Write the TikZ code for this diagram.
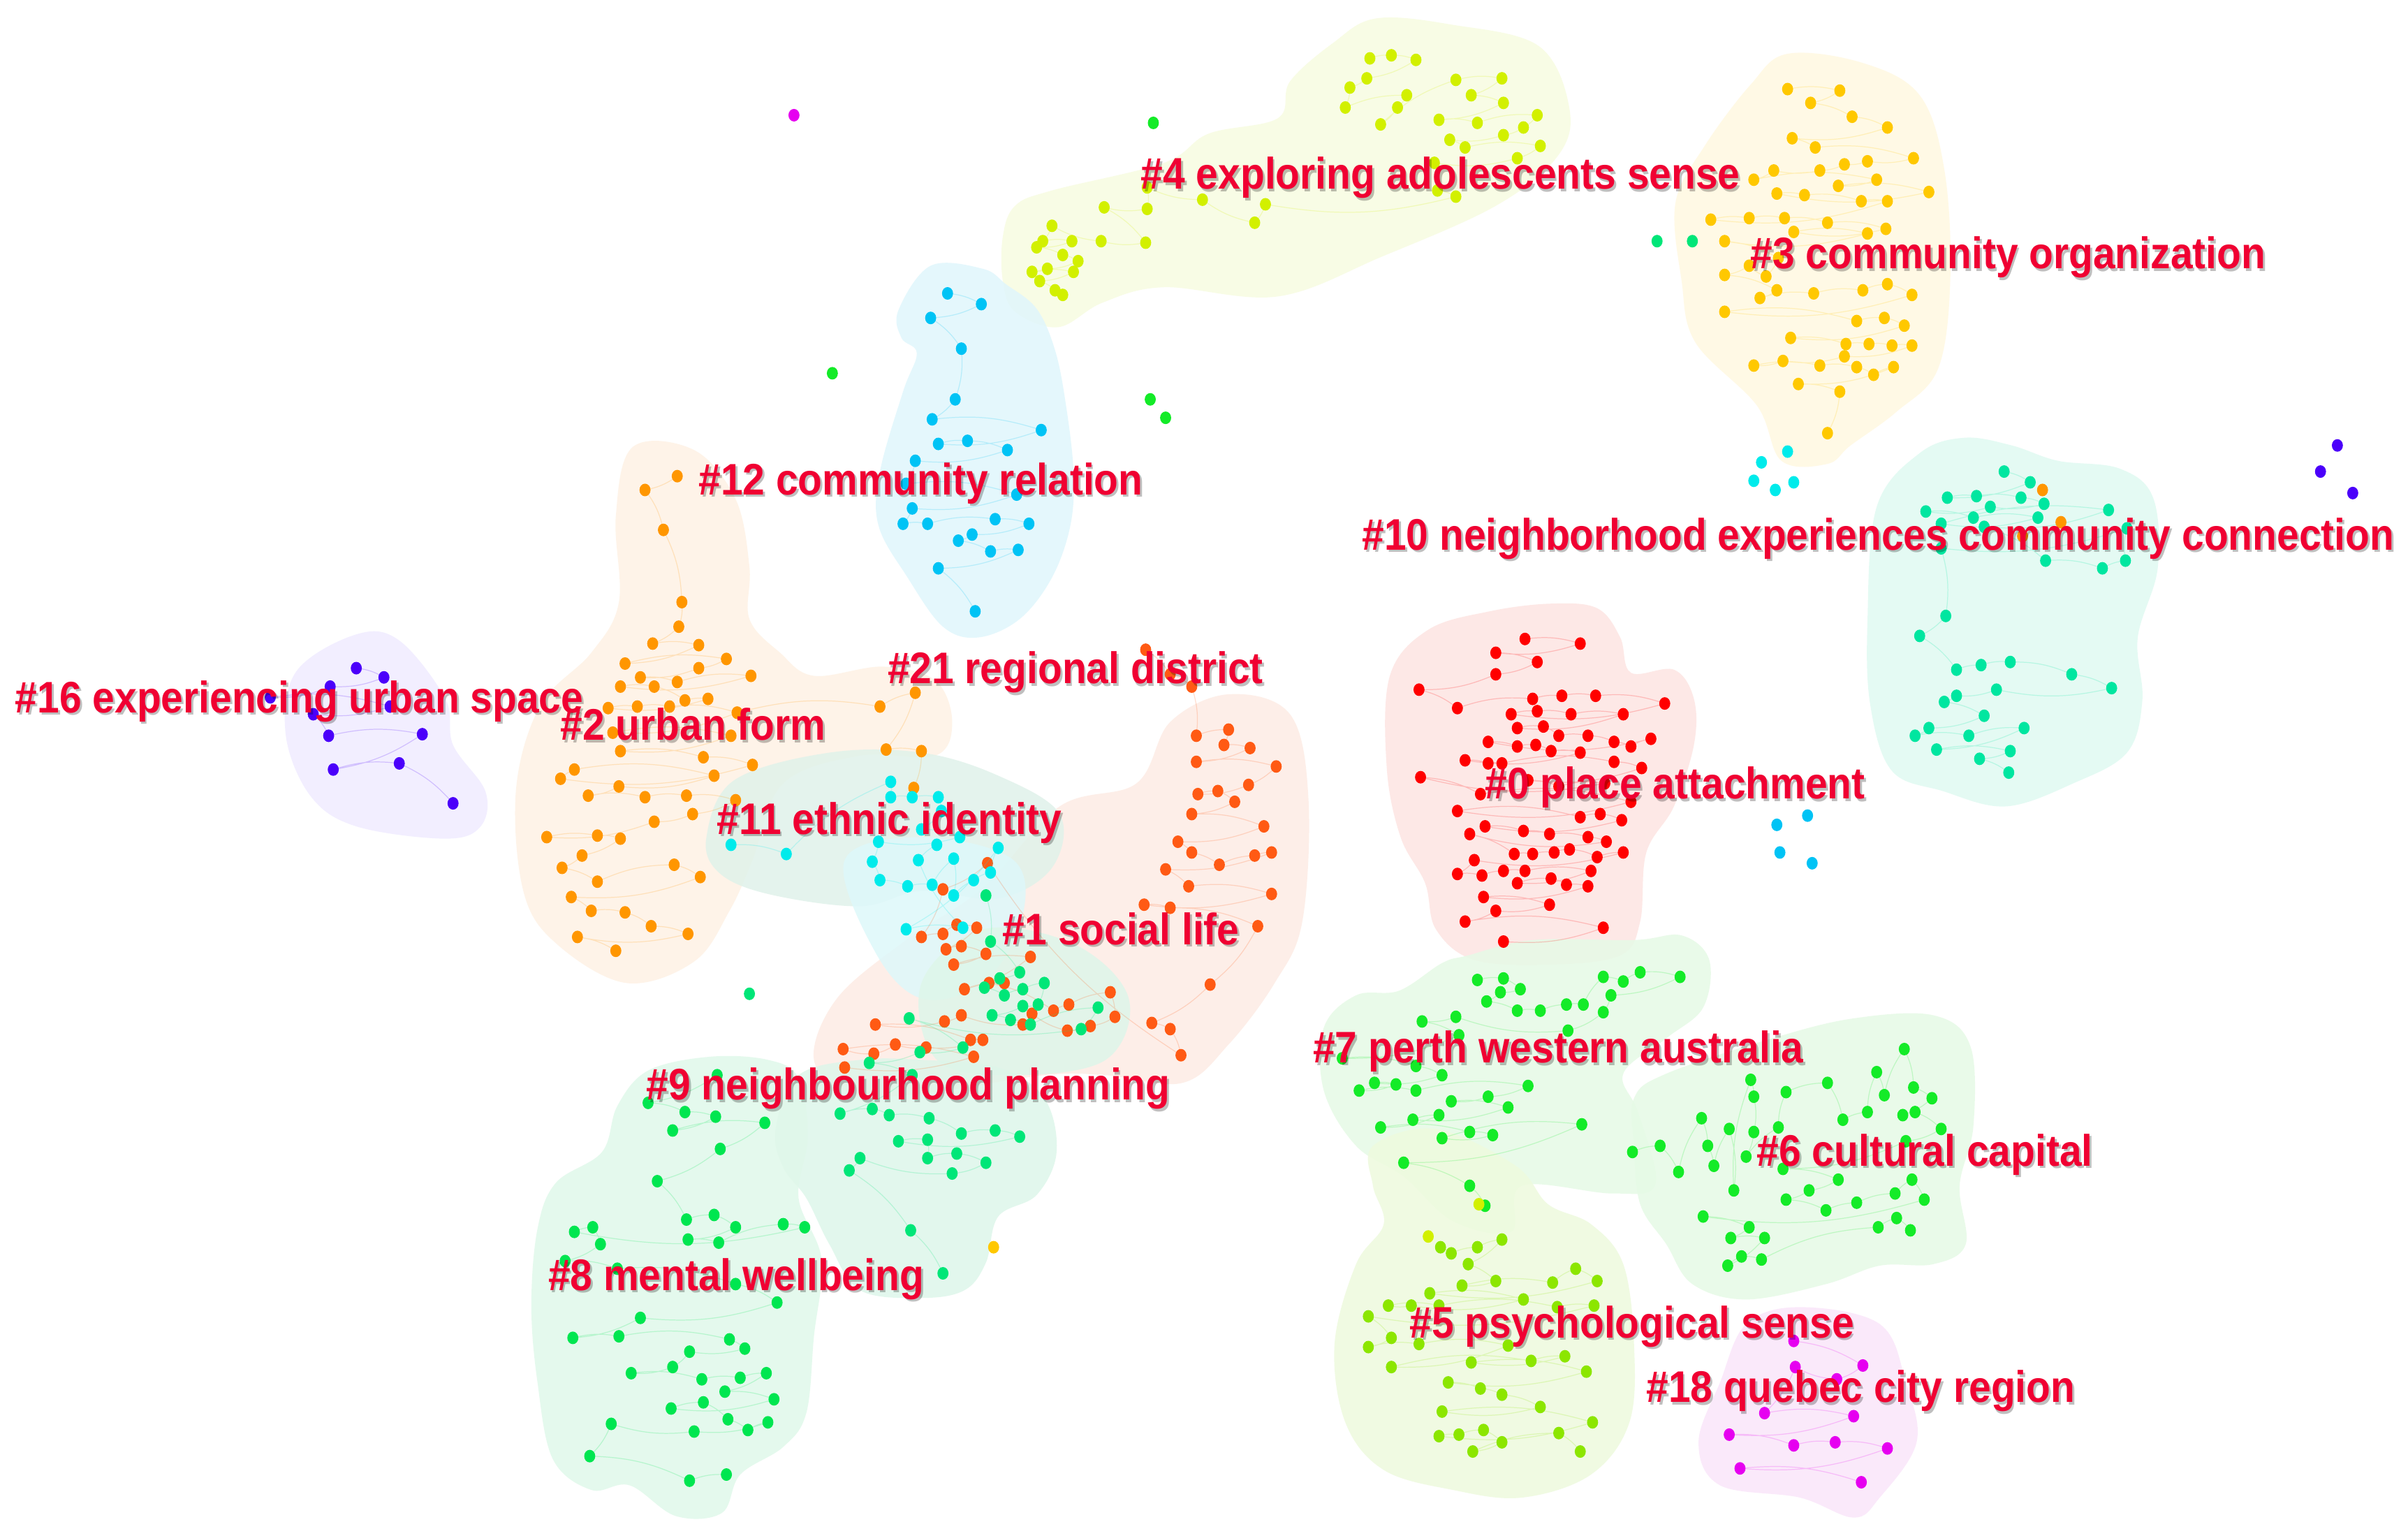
\documentclass[tikz,border=0pt]{standalone}
\usepackage{fontspec}
\newfontfamily\labfont{Liberation Sans}[FakeStretch=0.9]
\definecolor{labred}{RGB}{240,0,50}
\definecolor{c0}{RGB}{255,0,0}\definecolor{b0}{RGB}{253,228,226}
\definecolor{c1}{RGB}{255,90,20}\definecolor{b1}{RGB}{253,236,228}
\definecolor{c2}{RGB}{255,150,0}\definecolor{b2}{RGB}{254,242,228}
\definecolor{c3}{RGB}{255,200,0}\definecolor{b3}{RGB}{255,248,225}
\definecolor{c4}{RGB}{210,240,0}\definecolor{b4}{RGB}{247,252,225}
\definecolor{c5}{RGB}{140,230,0}\definecolor{b5}{RGB}{238,250,222}
\definecolor{c6}{RGB}{20,235,40}\definecolor{b6}{RGB}{230,250,230}
\definecolor{c8}{RGB}{0,230,80}\definecolor{b8}{RGB}{224,248,234}
\definecolor{c9}{RGB}{0,230,120}\definecolor{b9}{RGB}{222,246,234}
\definecolor{c10}{RGB}{0,230,160}\definecolor{b10}{RGB}{224,250,242}
\definecolor{c11}{RGB}{0,235,235}\definecolor{b11}{RGB}{224,242,234}\definecolor{b11b}{RGB}{222,248,250}
\definecolor{c12}{RGB}{0,195,245}\definecolor{b12}{RGB}{224,246,252}
\definecolor{c16}{RGB}{75,0,250}\definecolor{b16}{RGB}{240,236,255}
\definecolor{c18}{RGB}{230,0,240}\definecolor{b18}{RGB}{250,230,250}
\newcommand\blobshape[2]{\fill[#1,fill opacity=0.85] plot[smooth cycle,tension=0.6] coordinates {#2};}
\newcommand\clusterset[3]{%
  \draw[lnk,draw=#1] (#2) \foreach \x/\y in {#3}{ to[bend left=12] (\x,\y)};
  \fill[#1] (#2) ellipse[x radius=3.6,y radius=4.1];
  \foreach \x/\y in {#3}{\fill[#1] (\x,\y) ellipse[x radius=3.6,y radius=4.1];}}
\newcommand\onedot[3]{\fill[#1] (#2,#3) ellipse[x radius=3.6,y radius=4.1];}
\newcommand\clabel[4]{%
  \node[labsh] (s#1) at (#2+1.3,#3+1.6) {#4};
  \node[lab] (l#1) at (#2,#3) {#4};}
\begin{document}
\begin{tikzpicture}[x=0.0219898cm,y=-0.0219898cm,
  lnk/.style={line width=0.35pt,opacity=0.2},
  lab/.style={anchor=base west,inner sep=0pt,outer sep=0pt,text=labred,font=\labfont\bfseries\fontsize{18}{20}\selectfont},
  labsh/.style={lab,text=black,text opacity=0.25}]
\fill[white] (0,0) rectangle (1568,995);
\useasboundingbox (0,0) rectangle (1568,995);
% ---------------- blobs ----------------
\blobshape{b4}{(653,154) (661,134) (685,124) (758,106) (787,87) (832,77) (840,53) (868,28) (896,12) (945,16) (1002,30) (1022,71) (1014,102) (974,134) (900,167) (832,193) (758,187) (718,197) (689,213) (661,203) (653,183)}
\blobshape{b3}{(1164,35) (1213,41) (1250,62) (1266,110) (1270,180) (1262,240) (1235,268) (1205,290) (1190,302) (1160,300) (1144,264) (1104,223) (1095,183) (1091,132) (1110,95) (1140,55)}
\blobshape{b12}{(585,202) (606,173) (640,175) (655,185) (675,201) (687,228) (694,263) (699,307) (697,342) (685,376) (664,403) (637,415) (614,408) (591,376) (572,342) (573,307) (588,255) (597,230) (587,220)}
\blobshape{b10}{(1216,405) (1222,330) (1250,295) (1279,285) (1310,290) (1340,300) (1380,305) (1402,324) (1405,370) (1392,415) (1395,456) (1385,490) (1350,510) (1306,525) (1265,515) (1232,502) (1218,460)}
\blobshape{b0}{(905,440) (930,410) (970,398) (1010,393) (1040,396) (1055,415) (1062,438) (1090,436) (1103,455) (1103,485) (1090,525) (1072,555) (1068,600) (1055,622) (1010,628) (960,625) (935,605) (928,575) (912,545) (903,500)}
\blobshape{b16}{(193,437) (232,413) (260,417) (290,455) (295,485) (316,515) (313,538) (290,546) (232,538) (202,518) (186,478)}
\blobshape{b2}{(412,291) (452,293) (479,325) (488,369) (488,403) (508,425) (530,440) (575,434) (609,443) (620,470) (609,492) (560,492) (510,510) (490,560) (475,593) (452,626) (408,640) (363,615) (341,581) (336,514) (352,459) (385,425) (403,392) (401,336)}
\blobshape{b1}{(530,690) (545,650) (590,612) (640,578) (690,525) (740,510) (762,470) (800,452) (840,465) (852,520) (848,600) (830,640) (800,680) (770,705) (720,700) (680,700) (600,712) (555,712)}
\blobshape{b11}{(460,545) (478,508) (540,490) (600,490) (650,505) (690,530) (685,565) (650,585) (600,580) (560,590) (500,582) (468,568)}
\blobshape{b11b}{(550,560) (600,545) (660,560) (665,600) (640,640) (600,650) (570,620)}
\blobshape{b9}{(600,640) (640,605) (700,615) (735,650) (720,690) (660,700) (610,690)}
\blobshape{b9}{(505,735) (520,700) (560,690) (600,690) (650,695) (680,715) (688,750) (675,778) (650,792) (642,822) (628,840) (600,845) (560,840) (540,810) (525,780) (510,760)}
\blobshape{b8}{(350,800) (362,770) (392,750) (402,720) (422,697) (462,688) (500,690) (520,702) (526,740) (520,780) (535,820) (530,870) (525,920) (510,942) (482,960) (470,985) (440,987) (410,967) (385,970) (360,950) (350,900) (346,850)}
\blobshape{b6}{(939,627) (956,622) (998,612) (1064,612) (1095,609) (1113,625) (1109,656) (1085,676) (1057,699) (1067,725) (1078,771) (1050,777) (991,772) (984,802) (946,795) (914,766) (883,746) (862,710) (862,669) (883,648) (911,645)}
\blobshape{b6}{(1064,715) (1085,699) (1154,676) (1207,663) (1259,661) (1283,681) (1285,733) (1276,772) (1280,810) (1259,823) (1224,824) (1189,836) (1137,846) (1102,836) (1085,810) (1068,784) (1064,746)}
\blobshape{b5}{(894,746) (935,735) (987,759) (1008,784) (1036,797) (1057,823) (1064,875) (1061,926) (1036,960) (991,975) (946,970) (901,957) (876,926) (869,875) (883,823) (901,797) (894,772)}
\blobshape{b18}{(1137,862) (1172,851) (1224,862) (1241,900) (1248,939) (1224,975) (1207,988) (1172,975) (1120,967) (1106,939) (1120,900)}
% ---------------- clusters ----------------
\clusterset{c4}{892,38}{906/36, 922/39, 890/51, 879/57, 876/70, 916/62, 910/70, 899/81, 948/52, 978/51, 958/62, 979/67, 937/78, 962/80, 1001/75, 992/83, 979/88, 944/91, 954/96, 1003/95, 988/103, 934/106, 936/124, 948/128, 824/133, 817/145, 783/130, 747/122, 747/136, 719/135, 746/158, 717/157, 685/147, 679/157, 698/157, 675/161, 692/166, 702/170, 682/175, 672/177, 699/177, 677/183, 687/189, 692/192}
\clusterset{c3}{1164,58}{1198/59, 1179/67, 1206/76, 1229/83, 1167/90, 1182/96, 1246/103, 1216/105, 1201/107, 1185/111, 1155/111, 1142/117, 1222/117, 1197/121, 1256/125, 1157/126, 1175/127, 1212/131, 1229/131, 1114/143, 1139/142, 1162/142, 1190/145, 1228/149, 1168/151, 1216/152, 1123/157, 1158/168, 1150/180, 1139/173, 1123/179, 1157/189, 1146/194, 1181/191, 1213/189, 1229/185, 1245/192, 1123/203, 1209/209, 1227/207, 1240/212, 1166/220, 1202/224, 1217/224, 1232/225, 1245/225, 1201/232, 1161/235, 1142/238, 1185/238, 1209/239, 1220/244, 1233/239, 1171/250, 1198/255, 1190/282}
\clusterset{c12}{617,191}{639/198, 606/207, 626/227, 622/260, 607/273, 678/280, 611/289, 630/287, 656/293, 596/300, 590/315, 662/322, 594/331, 588/341, 604/341, 648/338, 670/341, 633/348, 624/352, 645/359, 663/358, 611/370, 635/398}
\clusterset{c10}{1305,307}{1322/314, 1268/324, 1287/323, 1316/324, 1331/328, 1296/330, 1254/333, 1285/337, 1327/337, 1264/341, 1373/332, 1292/343, 1332/365, 1369/370, 1384/365, 1385/344, 1264/357, 1267/401, 1250/414, 1274/436, 1290/433, 1309/431, 1349/439, 1375/448, 1300/449, 1274/453, 1266/457, 1292/466, 1256/474, 1247/479, 1282/479, 1318/474, 1261/488, 1309/489, 1289/494, 1308/503}
\onedot{c2}{1330}{319}\onedot{c2}{1342}{340}\onedot{c2}{1317}{349}
\clusterset{c0}{993,416}{1029/419, 974/425, 1001/431, 974/439, 924/449, 949/461, 998/455, 1017/453, 1039/453, 1084/458, 984/465, 1001/463, 1023/465, 1057/465, 988/474, 1005/473, 1015/479, 1034/479, 1051/483, 1062/486, 1075/481, 969/483, 988/486, 1000/485, 1010/489, 1029/490, 954/495, 969/497, 978/497, 1051/496, 1069/500, 995/508, 1015/512, 1045/510, 925/506, 964/517, 1062/522, 949/528, 1029/532, 1042/530, 1056/534, 967/538, 992/541, 1009/543, 1034/545, 1046/548, 957/543, 986/556, 998/556, 1012/555, 1022/553, 1040/558, 1057/555, 960/560, 949/569, 965/570, 979/567, 993/567, 1036/567, 988/575, 1010/572, 1020/576, 1034/577, 966/584, 1009/589, 974/593, 954/600, 1044/604, 979/613}
\clusterset{c16}{232,435}{250/441, 215/447, 176/454, 254/460, 204/465, 214/479, 275/478, 217/501, 260/497, 295/523}
\clusterset{c2}{441,310}{420/319, 432/345, 444/392, 442/408, 425/419, 455/420, 407/432, 473/429, 455/435, 417/441, 441/444, 489/440, 404/447, 426/447, 446/456, 461/455, 396/461, 415/460, 436/460, 480/464, 399/477, 476/479, 404/489, 458/493, 490/498, 365/507, 374/501, 465/505, 403/512, 383/518, 420/519, 447/518, 479/521, 451/530, 426/535, 356/545, 389/544, 404/546, 379/557, 366/565, 389/574, 439/563, 456/571, 372/584, 385/593, 407/594, 424/603, 448/608, 376/610, 401/619}
\clusterset{c2}{480,464}{573/460, 596/451, 577/488, 600/489, 595/513}
\clusterset{c1}{746,423}{762/439, 776/447, 779/479, 800/475, 797/485, 814/487, 779/496, 831/499, 813/511, 780/517, 793/515, 804/522, 776/530, 823/538, 767/548, 776/555, 794/563, 817/557, 828/555, 759/566, 774/577, 828/582, 745/589, 762/591, 819/603, 788/641, 750/666, 762/670, 769/687, 643/562, 614/579, 600/610, 614/608, 623/602, 636/604, 616/618, 626/616, 642/621, 621/628, 671/623, 628/644, 654/640, 644/640, 686/658, 696/654, 723/646, 726/662, 710/668, 695/671, 672/660, 666/667, 626/661, 615/665, 570/667, 632/677, 640/677, 603/682, 583/680, 569/686, 549/683, 634/688, 550/695}
\clusterset{c11}{476,550}{512/556, 580/509, 580/519, 594/519, 611/519, 613/528, 600/540, 625/545, 572/548, 568/561, 573/573, 591/577, 607/576, 621/559, 621/583, 634/573, 645/568, 650/552, 590/605, 627/604, 598/560, 610/550}
\clusterset{c9}{642,583}{645/613, 664/633, 651/637, 641/643, 654/648, 666/644, 680/640, 676/654, 666/655, 646/661, 658/664, 671/667, 715/656, 704/670, 592/663, 627/682, 599/685, 566/692, 594/700, 547/725, 568/722, 579/726, 605/728, 626/738, 648/736, 664/740, 585/743, 604/742, 604/754, 623/751, 642/757, 620/764, 560/754, 553/762, 593/801, 614/829}
\clusterset{c8}{467,700}{422/718, 446/724, 466/727, 438/736, 498/731, 469/748, 428/769, 447/794, 465/791, 479/799, 448/807, 468/809, 510/797, 524/799, 374/802, 386/799, 391/810, 368/821, 402/826, 479/836, 506/848, 417/858, 373/871, 403/870, 475/872, 485/878, 449/880, 438/890, 411/894, 457/898, 482/897, 499/894, 472/906, 504/911, 437/917, 458/913, 474/924, 487/931, 500/926, 452/932, 398/927, 384/948, 449/964, 473/960}
\clusterset{c6}{962,638}{979/637, 990/644, 977/646, 968/652, 988/658, 1003/658, 1020/654, 1031/654, 1044/636, 1057/639, 1068/633, 1094/636, 1049/648, 1044/659, 1021/671, 948/662, 926/665, 950/674, 874/689, 922/694, 939/700, 895/705, 909/706, 885/710, 922/710, 995/707, 969/714, 945/717, 982/721, 920/729, 937/726, 899/734, 957/737, 972/739, 939/741, 1030/732, 914/757, 957/772, 967/785}
\clusterset{c6}{1063,750}{1081/746, 1093/763, 1108/728, 1112/746, 1116/759, 1126/735, 1129/775, 1140/703, 1142/714, 1142/737, 1137/753, 1158/734, 1163/711, 1190/705, 1200/729, 1216/724, 1222/698, 1227/713, 1240/683, 1246/708, 1258/715, 1239/726, 1247/724, 1264/735, 1241/743, 1161/761, 1197/768, 1178/775, 1163/781, 1189/788, 1209/783, 1234/777, 1245/768, 1253/781, 1109/792, 1139/799, 1127/806, 1149/806, 1125/824, 1134/818, 1147/820, 1223/799, 1235/793, 1244/801}
\clusterset{c5}{938,812}{945/816, 962/812, 978/807, 956/823, 974/834, 952/837, 1011/835, 1026/826, 1040/834, 931/842, 992/846, 919/850, 904/850, 937/850, 1014/851, 1038/850, 891/857, 906/871, 891/877, 924/875, 982/876, 906/890, 997/886, 1019/883, 958/887, 1033/893, 943/900, 964/904, 978/908, 1003/916, 939/919, 1037/926, 937/935, 950/934, 966/931, 978/939, 959/945, 1015/933, 1029/945}
\onedot{c4}{930}{805}\onedot{c4}{963}{784}
\clusterset{c18}{1168,873}{1213/889, 1196/898, 1169/890, 1149/920, 1207/922, 1126/934, 1168/941, 1195/939, 1229/943, 1133/956, 1212/965}
% ---------------- isolated dots ----------------
\onedot{c18}{517}{75}
\onedot{c6}{751}{80}
\onedot{c6}{542}{243}
\onedot{c6}{749}{260}\onedot{c6}{759}{272}
\onedot{c9}{1079}{157}\onedot{c9}{1102}{157}
\onedot{c9}{488}{647}
\onedot{c3}{647}{812}
\onedot{c16}{1522}{290}\onedot{c16}{1511}{307}\onedot{c16}{1532}{321}
\onedot{c11}{1164}{294}\onedot{c11}{1147}{301}\onedot{c11}{1142}{313}\onedot{c11}{1156}{319}\onedot{c11}{1168}{314}
\onedot{c12}{1177}{531}\onedot{c12}{1157}{537}\onedot{c12}{1159}{555}\onedot{c12}{1180}{562}
% ---------------- labels ----------------
\clabel{4}{743}{123}{\#4 exploring adolescents sense}
\clabel{3}{1140}{175}{\#3 community organization}
\clabel{12}{455}{322}{\#12 community relation}
\clabel{10}{887}{358}{\#10 neighborhood experiences community connection}
\clabel{21}{578}{445}{\#21 regional district}
\clabel{16}{10}{464}{\#16 experiencing urban space}
\clabel{2}{365}{482}{\#2 urban form}
\clabel{0}{967}{520}{\#0 place attachment}
\clabel{11}{467}{543}{\#11 ethnic identity}
\clabel{1}{653}{615}{\#1 social life}
\clabel{7}{855}{692}{\#7 perth western australia}
\clabel{9}{421}{716}{\#9 neighbourhood planning}
\clabel{6}{1144}{759}{\#6 cultural capital}
\clabel{8}{357}{840}{\#8 mental wellbeing}
\clabel{5}{918}{871}{\#5 psychological sense}
\clabel{18}{1072}{913}{\#18 quebec city region}
\end{tikzpicture}
\end{document}
